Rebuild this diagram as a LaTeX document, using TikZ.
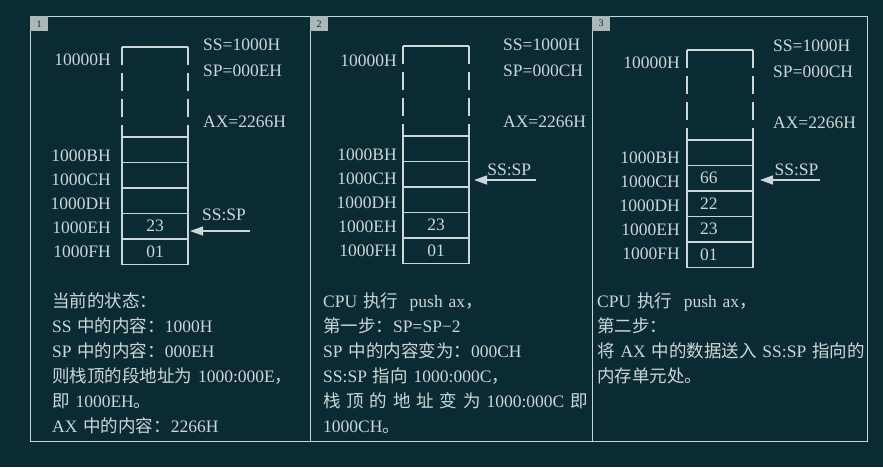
\documentclass[tikz,border=0pt]{standalone}
\usepackage{fontspec}
\setmainfont{Liberation Serif}
\newfontfamily\cjk{Noto Sans CJK SC}
\newcommand\zh[1]{{\cjk #1}}
\newcommand\boardfont{\fontsize{17.5}{25}\selectfont}
\usetikzlibrary{arrows.meta,positioning}
\definecolor{bgteal}{RGB}{11,43,52}
\definecolor{chalk}{RGB}{205,214,214}
\definecolor{tabgrey}{RGB}{172,184,184}
\tikzset{%
  >={Triangle[length=13pt,width=9pt]},
  % Frames, tabs and stack cells
      panel/.style = {draw=chalk, line width=1.3pt, anchor=north west,
                      minimum height=425pt, inner sep=0pt},
     numtab/.style = {fill=tabgrey, anchor=north west, minimum width=18pt,
                      minimum height=15pt, inner sep=0pt, text=bgteal,
                      font=\fontsize{10}{10}\selectfont},
   stacktop/.style = {minimum width=66pt, minimum height=90pt, inner sep=0pt,
                      outer sep=0pt},
   sideline/.style = {draw=chalk, line width=1.2pt, dash pattern=on 18pt off 8pt},
       cell/.style = {draw=chalk, line width=1.2pt, minimum width=66pt,
                      minimum height=25.5pt, inner sep=0pt, outer sep=0pt},
      cellL/.style = {cell, align=left, text width=40pt, inner xsep=13pt},
  % Texts
       addr/.style = {inner sep=0pt, anchor=east},
        reg/.style = {anchor=west, inner sep=0pt},
      notes/.style = {anchor=north west, align=left, inner sep=0pt},
        ptr/.style = {->, draw=chalk, line width=1.3pt},
}
\begin{document}
\begin{tikzpicture}[x=1pt, y=-1pt,
    every node/.style={text=chalk, font=\boardfont}]
  \useasboundingbox (0,0) rectangle (883,467);
  \fill[bgteal] (0,0) rectangle (883,467);

  % Three panels with number tabs
  \node (panelA) [panel, minimum width=280pt] at (30,16)  {};
  \node (panelB) [panel, minimum width=282pt] at (310,16) {};
  \node (panelC) [panel, minimum width=275pt] at (592,16) {};
  \node (tabA) [numtab] at (panelA.north west) {1};
  \node (tabB) [numtab] at (panelB.north west) {2};
  \node (tabC) [numtab] at (panelC.north west) {3};

  % Panel 1: stack before push
  \node (topA)   [stacktop] at (155,92) {};
  \node (cellA1) [cell, below=0pt of topA]   {};
  \node (cellA2) [cell, below=0pt of cellA1] {};
  \node (cellA3) [cell, below=0pt of cellA2] {};
  \node (cellA4) [cell, below=0pt of cellA3] {23};
  \node (cellA5) [cell, below=0pt of cellA4] {01};
  \draw[draw=chalk, line width=1.2pt] (topA.north west) -- (topA.north east);
  \draw[sideline] (topA.north west) -- (topA.south west);
  \draw[sideline] (topA.north east) -- (topA.south east);

  \node (adrA0) [addr] at ([xshift=-11pt, yshift=-13pt]topA.north west) {10000H};
  \node (adrA1) [addr] at ([xshift=-11pt, yshift=-6pt]cellA1.west) {1000BH};
  \node (adrA2) [addr] at ([yshift=-24pt]adrA1.east) {1000CH};
  \node (adrA3) [addr] at ([yshift=-24pt]adrA2.east) {1000DH};
  \node (adrA4) [addr] at ([yshift=-24pt]adrA3.east) {1000EH};
  \node (adrA5) [addr] at ([yshift=-24pt]adrA4.east) {1000FH};

  \node (ssA) [reg] at (203,45)  {SS=1000H};
  \node (spA) [reg] at (203,71)  {SP=000EH};
  \node (axA) [reg] at (203,122) {AX=2266H};

  \coordinate (ptrA) at (250,231);
  \draw[ptr, shorten >=2pt] (ptrA) -- (ptrA -| cellA4.east)
      node (lblA) [pos=0.42, above=10pt, inner sep=0pt] {SS:SP};

  \node (noteA) [notes, text width=260pt] at (52,293) {%
    \zh{当前的状态：}\\
    SS \zh{中的内容：}1000H\\
    SP \zh{中的内容：}000EH\\
    \zh{则栈顶的段地址为} 1000:000E\zh{，}\\
    \zh{即} 1000EH\zh{。}\\
    AX \zh{中的内容：}2266H};

  % Panel 2: SP=SP-2
  \node (topB)   [stacktop] at (436,91) {};
  \node (cellB1) [cell, below=0pt of topB]   {};
  \node (cellB2) [cell, below=0pt of cellB1] {};
  \node (cellB3) [cell, below=0pt of cellB2] {};
  \node (cellB4) [cell, below=0pt of cellB3] {23};
  \node (cellB5) [cell, below=0pt of cellB4] {01};
  \draw[draw=chalk, line width=1.2pt] (topB.north west) -- (topB.north east);
  \draw[sideline] (topB.north west) -- (topB.south west);
  \draw[sideline] (topB.north east) -- (topB.south east);

  \node (adrB0) [addr] at ([xshift=-6pt, yshift=-15pt]topB.north west) {10000H};
  \node (adrB1) [addr] at ([xshift=-6pt, yshift=-6pt]cellB1.west) {1000BH};
  \node (adrB2) [addr] at ([yshift=-24pt]adrB1.east) {1000CH};
  \node (adrB3) [addr] at ([yshift=-24pt]adrB2.east) {1000DH};
  \node (adrB4) [addr] at ([yshift=-24pt]adrB3.east) {1000EH};
  \node (adrB5) [addr] at ([yshift=-24pt]adrB4.east) {1000FH};

  \node (ssB) [reg] at (503,45)  {SS=1000H};
  \node (spB) [reg] at (503,71)  {SP=000CH};
  \node (axB) [reg] at (503,122) {AX=2266H};

  \coordinate (ptrB) at (536,180);
  \draw[ptr, shorten >=5pt] (ptrB) -- (ptrB -| cellB2.east)
      node (lblB) [pos=0.4, above=4pt, inner sep=0pt] {SS:SP};

  \node (noteB) [notes, text width=262pt] at (323,293) {%
    CPU \zh{执行}\ \ push ax\zh{，}\\
    \zh{第一步：}SP=SP−2\\
    SP \zh{中的内容变为：}000CH\\
    SS:SP \zh{指向} 1000:000C\zh{，}\\
    \makebox[259pt][s]{\zh{栈 顶 的 地 址 变 为} 1000:000C \zh{即}}\\
    1000CH\zh{。}};

  % Panel 3: AX written to SS:SP
  \node (topC)   [stacktop] at (720,95) {};
  \node (cellC1) [cell, below=0pt of topC]   {};
  \node (cellC2) [cellL, below=0pt of cellC1] {66};
  \node (cellC3) [cellL, below=0pt of cellC2] {22};
  \node (cellC4) [cellL, below=0pt of cellC3] {23};
  \node (cellC5) [cellL, below=0pt of cellC4] {01};
  \draw[draw=chalk, line width=1.2pt] (topC.north west) -- (topC.north east);
  \draw[sideline] (topC.north west) -- (topC.south west);
  \draw[sideline] (topC.north east) -- (topC.south east);

  \node (adrC0) [addr] at ([xshift=-7pt, yshift=-13pt]topC.north west) {10000H};
  \node (adrC1) [addr] at ([xshift=-7pt, yshift=-5pt]cellC1.west) {1000BH};
  \node (adrC2) [addr] at ([yshift=-24pt]adrC1.east) {1000CH};
  \node (adrC3) [addr] at ([yshift=-24pt]adrC2.east) {1000DH};
  \node (adrC4) [addr] at ([yshift=-24pt]adrC3.east) {1000EH};
  \node (adrC5) [addr] at ([yshift=-24pt]adrC4.east) {1000FH};

  \node (ssC) [reg] at (773,46)  {SS=1000H};
  \node (spC) [reg] at (773,72)  {SP=000CH};
  \node (axC) [reg] at (773,123) {AX=2266H};

  \coordinate (ptrC) at (820,180);
  \draw[ptr, shorten >=7pt] (ptrC) -- (ptrC -| cellC2.east)
      node (lblC) [pos=0.35, above=4pt, inner sep=0pt] {SS:SP};

  \node (noteC) [notes, text width=268pt] at (597,293) {%
    CPU \zh{执行}\ \ push ax\zh{，}\\
    \zh{第二步：}\\
    \zh{将} AX \zh{中的数据送入} SS:SP \zh{指向的}\\
    \zh{内存单元处。}};
\end{tikzpicture}
\end{document}
